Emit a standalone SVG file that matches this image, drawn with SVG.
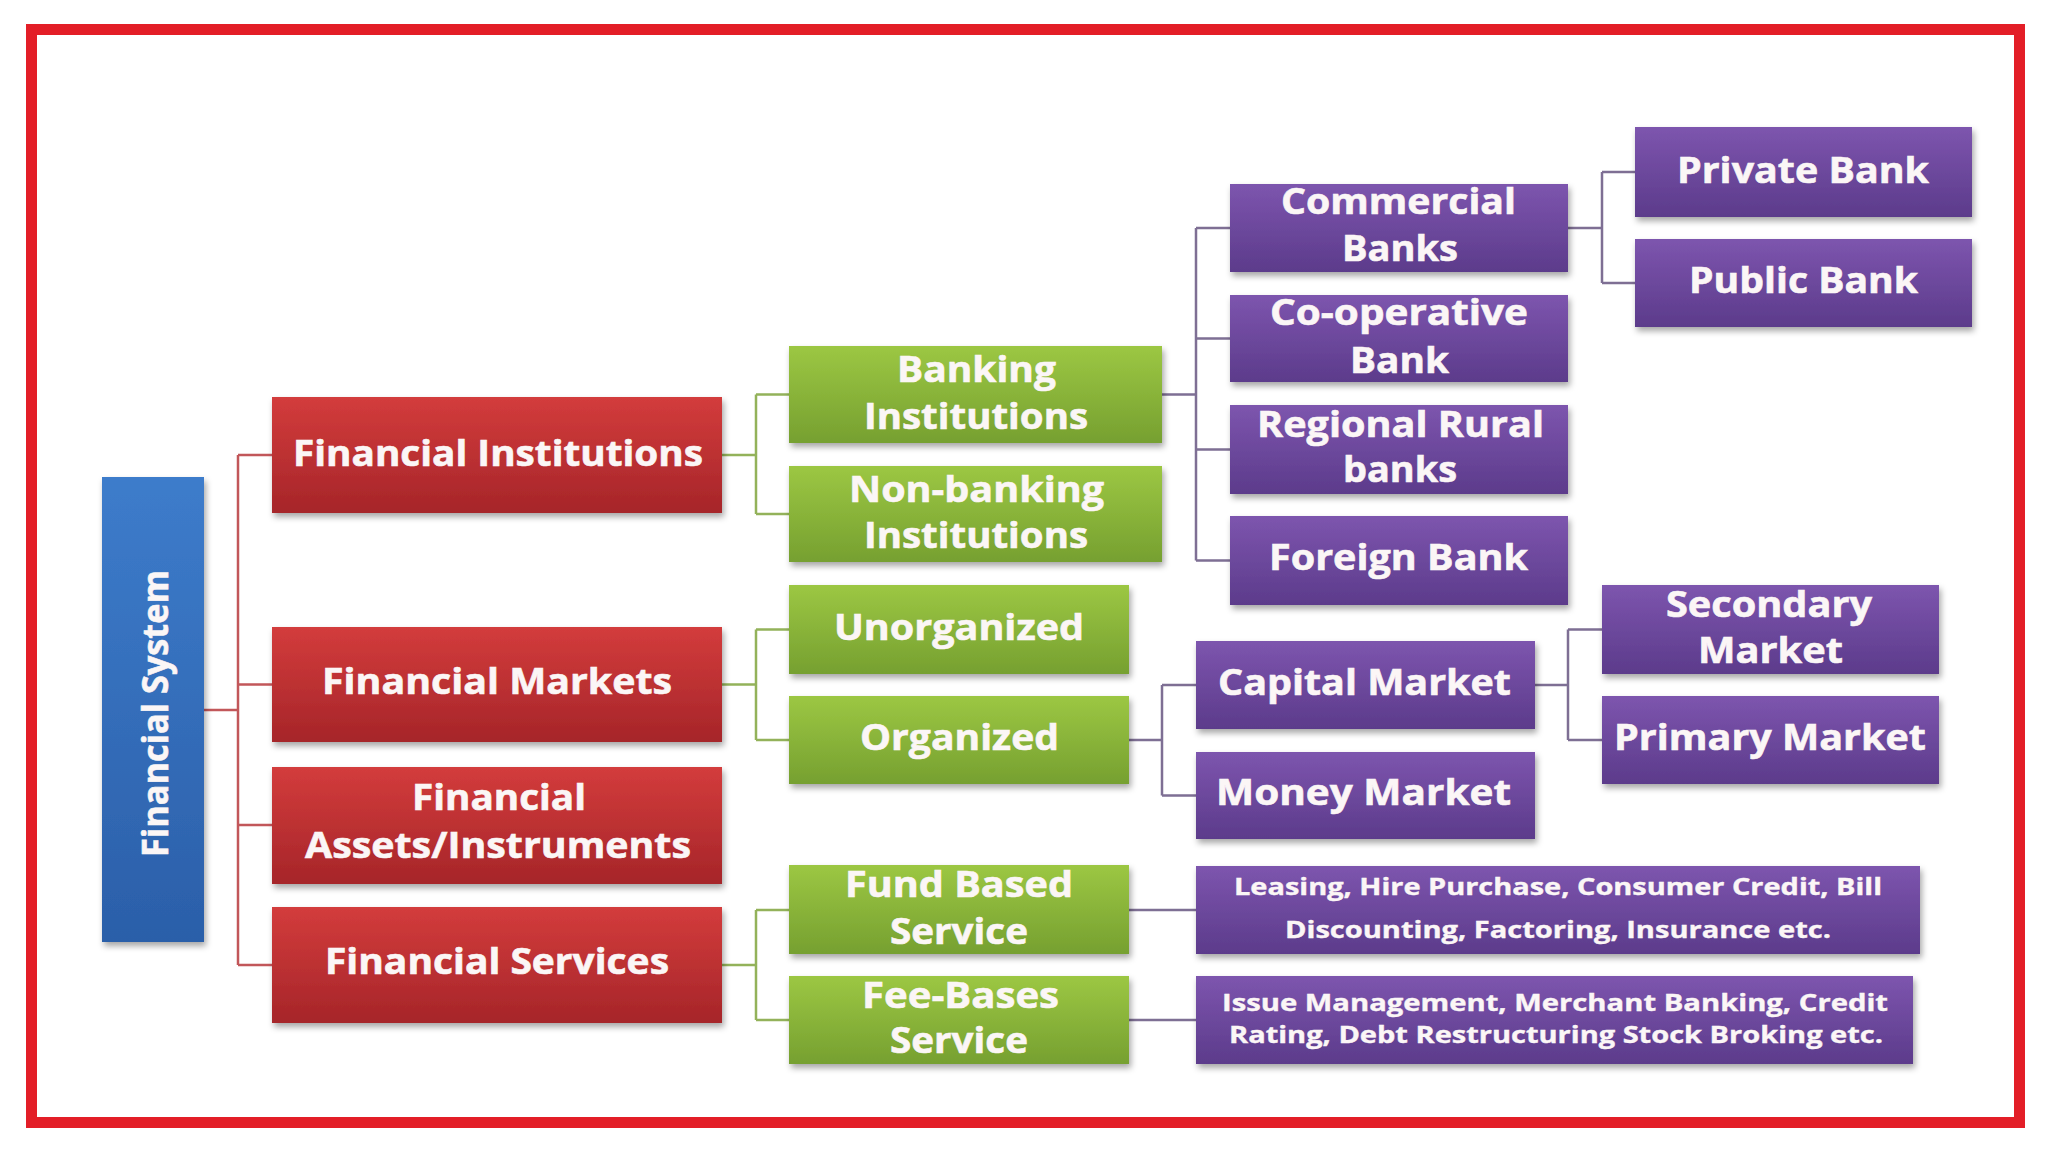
<svg xmlns="http://www.w3.org/2000/svg" width="2048" height="1152" viewBox="0 0 2048 1152">
<defs>
<linearGradient id="gBlue" x1="0" y1="0" x2="0" y2="1"><stop offset="0" stop-color="#3D7CCB"/><stop offset="1" stop-color="#2B5FA9"/></linearGradient>
<linearGradient id="gRed" x1="0" y1="0" x2="0" y2="1"><stop offset="0" stop-color="#D33C3C"/><stop offset="1" stop-color="#A62529"/></linearGradient>
<linearGradient id="gGreen" x1="0" y1="0" x2="0" y2="1"><stop offset="0" stop-color="#9CC743"/><stop offset="1" stop-color="#76A030"/></linearGradient>
<linearGradient id="gPurple" x1="0" y1="0" x2="0" y2="1"><stop offset="0" stop-color="#7D55AE"/><stop offset="1" stop-color="#5C3B8B"/></linearGradient>
<filter id="sh" x="-10%" y="-20%" width="120%" height="150%"><feDropShadow dx="2" dy="4" stdDeviation="3" flood-color="#000" flood-opacity="0.35"/></filter>
</defs>
<style>
.t{font-family:"Open Sans","Lato","Liberation Sans",sans-serif;font-weight:700;fill:#FBF6F6;font-size:36px;stroke:#FBF6F6;stroke-width:0.6px}
.s{font-size:24px;stroke-width:0.4px}
.blue{fill:url(#gBlue)}
.red{fill:url(#gRed)}
.green{fill:url(#gGreen)}
.purple{fill:url(#gPurple)}
.box{filter:url(#sh)}
.c1{stroke:#C2575A;stroke-width:2.5;fill:none}
.c2{stroke:#93B25A;stroke-width:2.5;fill:none}
.c3{stroke:#7E6F94;stroke-width:2.5;fill:none}
</style>
<rect x="0" y="0" width="2048" height="1152" fill="#FFFFFF"/>
<rect x="31.5" y="29.5" width="1988" height="1093" fill="none" stroke="#E31E27" stroke-width="11"/>

<g id="connectors">
<path class="c1" d="M204,710 H238 M238,455 V965 M238,455 H272 M238,684.5 H272 M238,825 H272 M238,965 H272"/>
<path class="c2" d="M722,455 H756 M756,394.5 V514 M756,394.5 H789 M756,514 H789"/>
<path class="c2" d="M722,684.5 H756 M756,629.5 V740 M756,629.5 H789 M756,740 H789"/>
<path class="c2" d="M722,965 H756 M756,910 V1020 M756,910 H789 M756,1020 H789"/>
<path class="c3" d="M1162,394.5 H1196 M1196,228 V560.5 M1196,228 H1230 M1196,338.5 H1230 M1196,449.5 H1230 M1196,560.5 H1230"/>
<path class="c3" d="M1568,228 H1602 M1602,172 V283 M1602,172 H1635 M1602,283 H1635"/>
<path class="c3" d="M1129,740 H1162 M1162,685 V795.5 M1162,685 H1196 M1162,795.5 H1196"/>
<path class="c3" d="M1535,685 H1568 M1568,629.5 V740 M1568,629.5 H1602 M1568,740 H1602"/>
<path class="c3" d="M1129,910 H1196 M1129,1020 H1196"/>
</g>

<g id="financial-system">
<rect class="box blue" x="102" y="477" width="102" height="465"/>
<text class="t" font-size="38" transform="translate(168,713.5) rotate(-90)" x="-143.5" y="0" textLength="287" lengthAdjust="spacingAndGlyphs">Financial System</text>
</g>

<g id="financial-institutions">
<rect class="box red" x="272" y="397" width="450" height="116"/>
<text class="t" x="293" y="466" textLength="410" lengthAdjust="spacingAndGlyphs">Financial Institutions</text>
</g>
<g id="financial-markets">
<rect class="box red" x="272" y="627" width="450" height="115"/>
<text class="t" x="322" y="694" textLength="350" lengthAdjust="spacingAndGlyphs">Financial Markets</text>
</g>
<g id="financial-assets">
<rect class="box red" x="272" y="767" width="450" height="117"/>
<text class="t" x="412" y="810" textLength="174" lengthAdjust="spacingAndGlyphs">Financial</text>
<text class="t" x="305" y="858" textLength="386" lengthAdjust="spacingAndGlyphs">Assets/Instruments</text>
</g>
<g id="financial-services">
<rect class="box red" x="272" y="907" width="450" height="116"/>
<text class="t" x="325" y="974" textLength="344" lengthAdjust="spacingAndGlyphs">Financial Services</text>
</g>

<g id="banking-institutions">
<rect class="box green" x="789" y="346" width="373" height="97"/>
<text class="t" x="897" y="382" textLength="159" lengthAdjust="spacingAndGlyphs">Banking</text>
<text class="t" x="864" y="429" textLength="224" lengthAdjust="spacingAndGlyphs">Institutions</text>
</g>
<g id="non-banking-institutions">
<rect class="box green" x="789" y="466" width="373" height="96"/>
<text class="t" x="849" y="501.5" textLength="255" lengthAdjust="spacingAndGlyphs">Non-banking</text>
<text class="t" x="864" y="548" textLength="224" lengthAdjust="spacingAndGlyphs">Institutions</text>
</g>
<g id="unorganized">
<rect class="box green" x="789" y="585" width="340" height="89"/>
<text class="t" x="834" y="640" textLength="250" lengthAdjust="spacingAndGlyphs">Unorganized</text>
</g>
<g id="organized">
<rect class="box green" x="789" y="696" width="340" height="88"/>
<text class="t" x="860" y="749.5" textLength="199" lengthAdjust="spacingAndGlyphs">Organized</text>
</g>
<g id="fund-based-service">
<rect class="box green" x="789" y="865" width="340" height="89"/>
<text class="t" x="845" y="897" textLength="228" lengthAdjust="spacingAndGlyphs">Fund Based</text>
<text class="t" x="890" y="943.5" textLength="138" lengthAdjust="spacingAndGlyphs">Service</text>
</g>
<g id="fee-bases-service">
<rect class="box green" x="789" y="976" width="340" height="88"/>
<text class="t" x="862" y="1007.5" textLength="197" lengthAdjust="spacingAndGlyphs">Fee-Bases</text>
<text class="t" x="890" y="1053" textLength="138" lengthAdjust="spacingAndGlyphs">Service</text>
</g>

<g id="commercial-banks">
<rect class="box purple" x="1230" y="184" width="338" height="88"/>
<text class="t" x="1281" y="214" textLength="235" lengthAdjust="spacingAndGlyphs">Commercial</text>
<text class="t" x="1342" y="260.5" textLength="116" lengthAdjust="spacingAndGlyphs">Banks</text>
</g>
<g id="co-operative-bank">
<rect class="box purple" x="1230" y="295" width="338" height="87"/>
<text class="t" x="1270" y="324.5" textLength="258" lengthAdjust="spacingAndGlyphs">Co-operative</text>
<text class="t" x="1350" y="373" textLength="99" lengthAdjust="spacingAndGlyphs">Bank</text>
</g>
<g id="regional-rural-banks">
<rect class="box purple" x="1230" y="405" width="338" height="89"/>
<text class="t" x="1257" y="436.5" textLength="287" lengthAdjust="spacingAndGlyphs">Regional Rural</text>
<text class="t" x="1343" y="482" textLength="114" lengthAdjust="spacingAndGlyphs">banks</text>
</g>
<g id="foreign-bank">
<rect class="box purple" x="1230" y="516" width="338" height="89"/>
<text class="t" x="1269" y="570" textLength="259" lengthAdjust="spacingAndGlyphs">Foreign Bank</text>
</g>
<g id="private-bank">
<rect class="box purple" x="1635" y="127" width="337" height="90"/>
<text class="t" x="1677" y="182.5" textLength="252" lengthAdjust="spacingAndGlyphs">Private Bank</text>
</g>
<g id="public-bank">
<rect class="box purple" x="1635" y="239" width="337" height="88"/>
<text class="t" x="1689" y="293" textLength="229" lengthAdjust="spacingAndGlyphs">Public Bank</text>
</g>
<g id="capital-market">
<rect class="box purple" x="1196" y="641" width="339" height="88"/>
<text class="t" x="1218" y="694.5" textLength="293" lengthAdjust="spacingAndGlyphs">Capital Market</text>
</g>
<g id="money-market">
<rect class="box purple" x="1196" y="752" width="339" height="87"/>
<text class="t" x="1216" y="805" textLength="295" lengthAdjust="spacingAndGlyphs">Money Market</text>
</g>
<g id="secondary-market">
<rect class="box purple" x="1602" y="585" width="337" height="89"/>
<text class="t" x="1666" y="617" textLength="206" lengthAdjust="spacingAndGlyphs">Secondary</text>
<text class="t" x="1698" y="663" textLength="145" lengthAdjust="spacingAndGlyphs">Market</text>
</g>
<g id="primary-market">
<rect class="box purple" x="1602" y="696" width="337" height="88"/>
<text class="t" x="1614" y="749.5" textLength="312" lengthAdjust="spacingAndGlyphs">Primary Market</text>
</g>
<g id="fund-based-list">
<rect class="box purple" x="1196" y="866" width="724" height="88"/>
<text class="t s" x="1234" y="895" textLength="648" lengthAdjust="spacingAndGlyphs">Leasing, Hire Purchase, Consumer Credit, Bill</text>
<text class="t s" x="1285" y="938" textLength="546" lengthAdjust="spacingAndGlyphs">Discounting, Factoring, Insurance etc.</text>
</g>
<g id="fee-based-list">
<rect class="box purple" x="1196" y="976" width="717" height="88"/>
<text class="t s" x="1222" y="1010.5" textLength="666" lengthAdjust="spacingAndGlyphs">Issue Management, Merchant Banking, Credit</text>
<text class="t s" x="1229" y="1042.5" textLength="654" lengthAdjust="spacingAndGlyphs">Rating, Debt Restructuring Stock Broking etc.</text>
</g>
</svg>
